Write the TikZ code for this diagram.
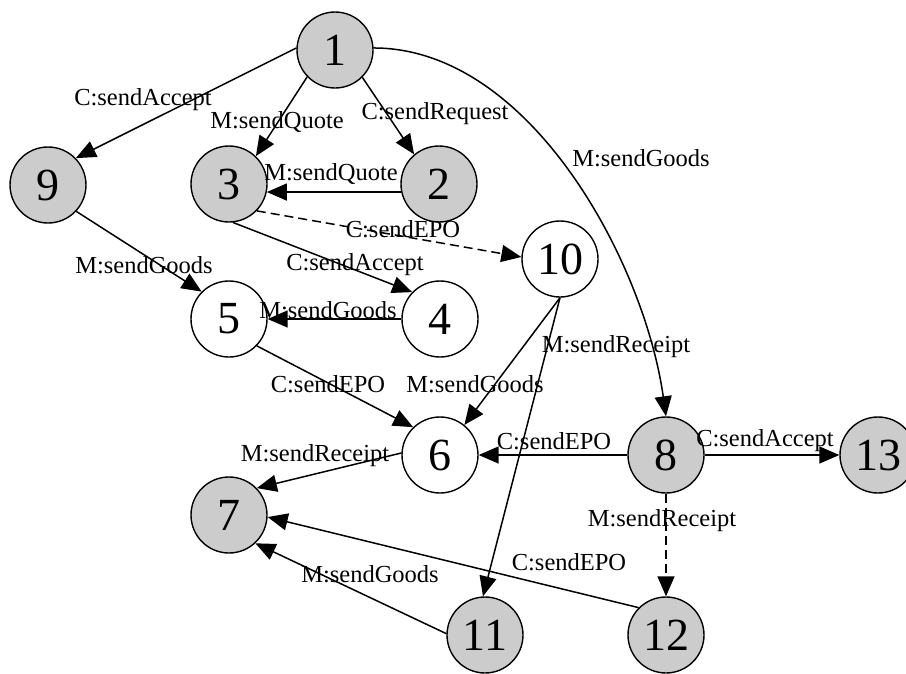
\documentclass[tikz,border=0pt]{standalone}
\usepackage{fontspec}
\setmainfont{Liberation Serif}
\usetikzlibrary{arrows.meta}
\definecolor{stategray}{RGB}{204,204,204}
\tikzset{
  state/.style={circle, draw, line width=1.4pt, minimum size=76pt, inner sep=0pt,
    font=\fontsize{46}{46}\selectfont},
  final/.style={state, fill=stategray},
  trans/.style={line width=1.5pt, -{Triangle[length=20pt,width=17pt]}},
  lbl/.style={font=\fontsize{24.5}{26}\selectfont, inner sep=0pt}
}
\begin{document}
\begin{tikzpicture}[x=1pt, y=-1pt]
\useasboundingbox (0,0) rectangle (906,673);

% states
\node[final] (n1)  at (335,50)  {1};
\node[final] (n9)  at (48,185)  {9};
\node[final] (n3)  at (229,184) {3};
\node[final] (n2)  at (439,184) {2};
\node[state] (n10) at (560,259) {10};
\node[state] (n5)  at (229,319) {5};
\node[state] (n4)  at (440,319) {4};
\node[state] (n6)  at (440,455) {6};
\node[final] (n8)  at (666,455) {8};
\node[final] (n13) at (878,455) {13};
\node[final] (n7)  at (229,515) {7};
\node[final] (n11) at (485,635) {11};
\node[final] (n12) at (666,635) {12};

% transitions
\draw[trans] (n1.177) -- (n9.44);
\draw[trans] (n1.224) -- (n3.46);
\draw[trans] (n1.-45) -- (n2.130);
\draw[trans] (n1.3) to[out=0, in=98, looseness=0.85] (n8.90);
\draw[trans] (n2.192) -- (n3.-12);
\draw[trans, dashed, dash pattern=on 9pt off 5pt] (n3.-44) -- (n10.177);
\draw[trans] (n3.-84) -- (n4.136);
\draw[trans] (n9.-43) -- (n5.135);
\draw[trans] (n4.180) -- (n5.0);
\draw[trans] (n5.-44) -- (n6.134);
\draw[trans] (n10.-90) -- (n6.51);
\draw[trans] (n10.-90) -- (n11.93);
\draw[trans] (n8.180) -- (n6.0);
\draw[trans] (n8.0) -- (n13.180);
\draw[trans, dashed, dash pattern=on 9pt off 5pt] (n8.-90) -- (n12.90);
\draw[trans] (n6.177) -- (n7.44);
\draw[trans] (n12.135) -- (n7.-3);
\draw[trans] (n11.178) -- (n7.-47);

% transition labels
\node[lbl] (l19)   at (143,100) {C:sendAccept};
\node[lbl] (l13)   at (277,122) {M:sendQuote};
\node[lbl] (l12)   at (435,114) {C:sendRequest};
\node[lbl] (l18)   at (641,158) {M:sendGoods};
\node[lbl] (l23)   at (331,174) {M:sendQuote};
\node[lbl] (l310)  at (403,229) {C:sendEPO};
\node[lbl] (l95)   at (144,265) {M:sendGoods};
\node[lbl] (l34)   at (355,265) {C:sendAccept};
\node[lbl] (l45)   at (328,310) {M:sendGoods};
\node[lbl] (l56)   at (328,384) {C:sendEPO};
\node[lbl] (l106)  at (475,384) {M:sendGoods};
\node[lbl] (l1011) at (616,347) {M:sendReceipt};
\node[lbl] (l86)   at (554,441) {C:sendEPO};
\node[lbl] (l813)  at (765,441) {C:sendAccept};
\node[lbl] (l67)   at (315,456) {M:sendReceipt};
\node[lbl] (l812)  at (662,521) {M:sendReceipt};
\node[lbl] (l127)  at (569,562) {C:sendEPO};
\node[lbl] (l117)  at (370,574) {M:sendGoods};
\end{tikzpicture}
\end{document}
